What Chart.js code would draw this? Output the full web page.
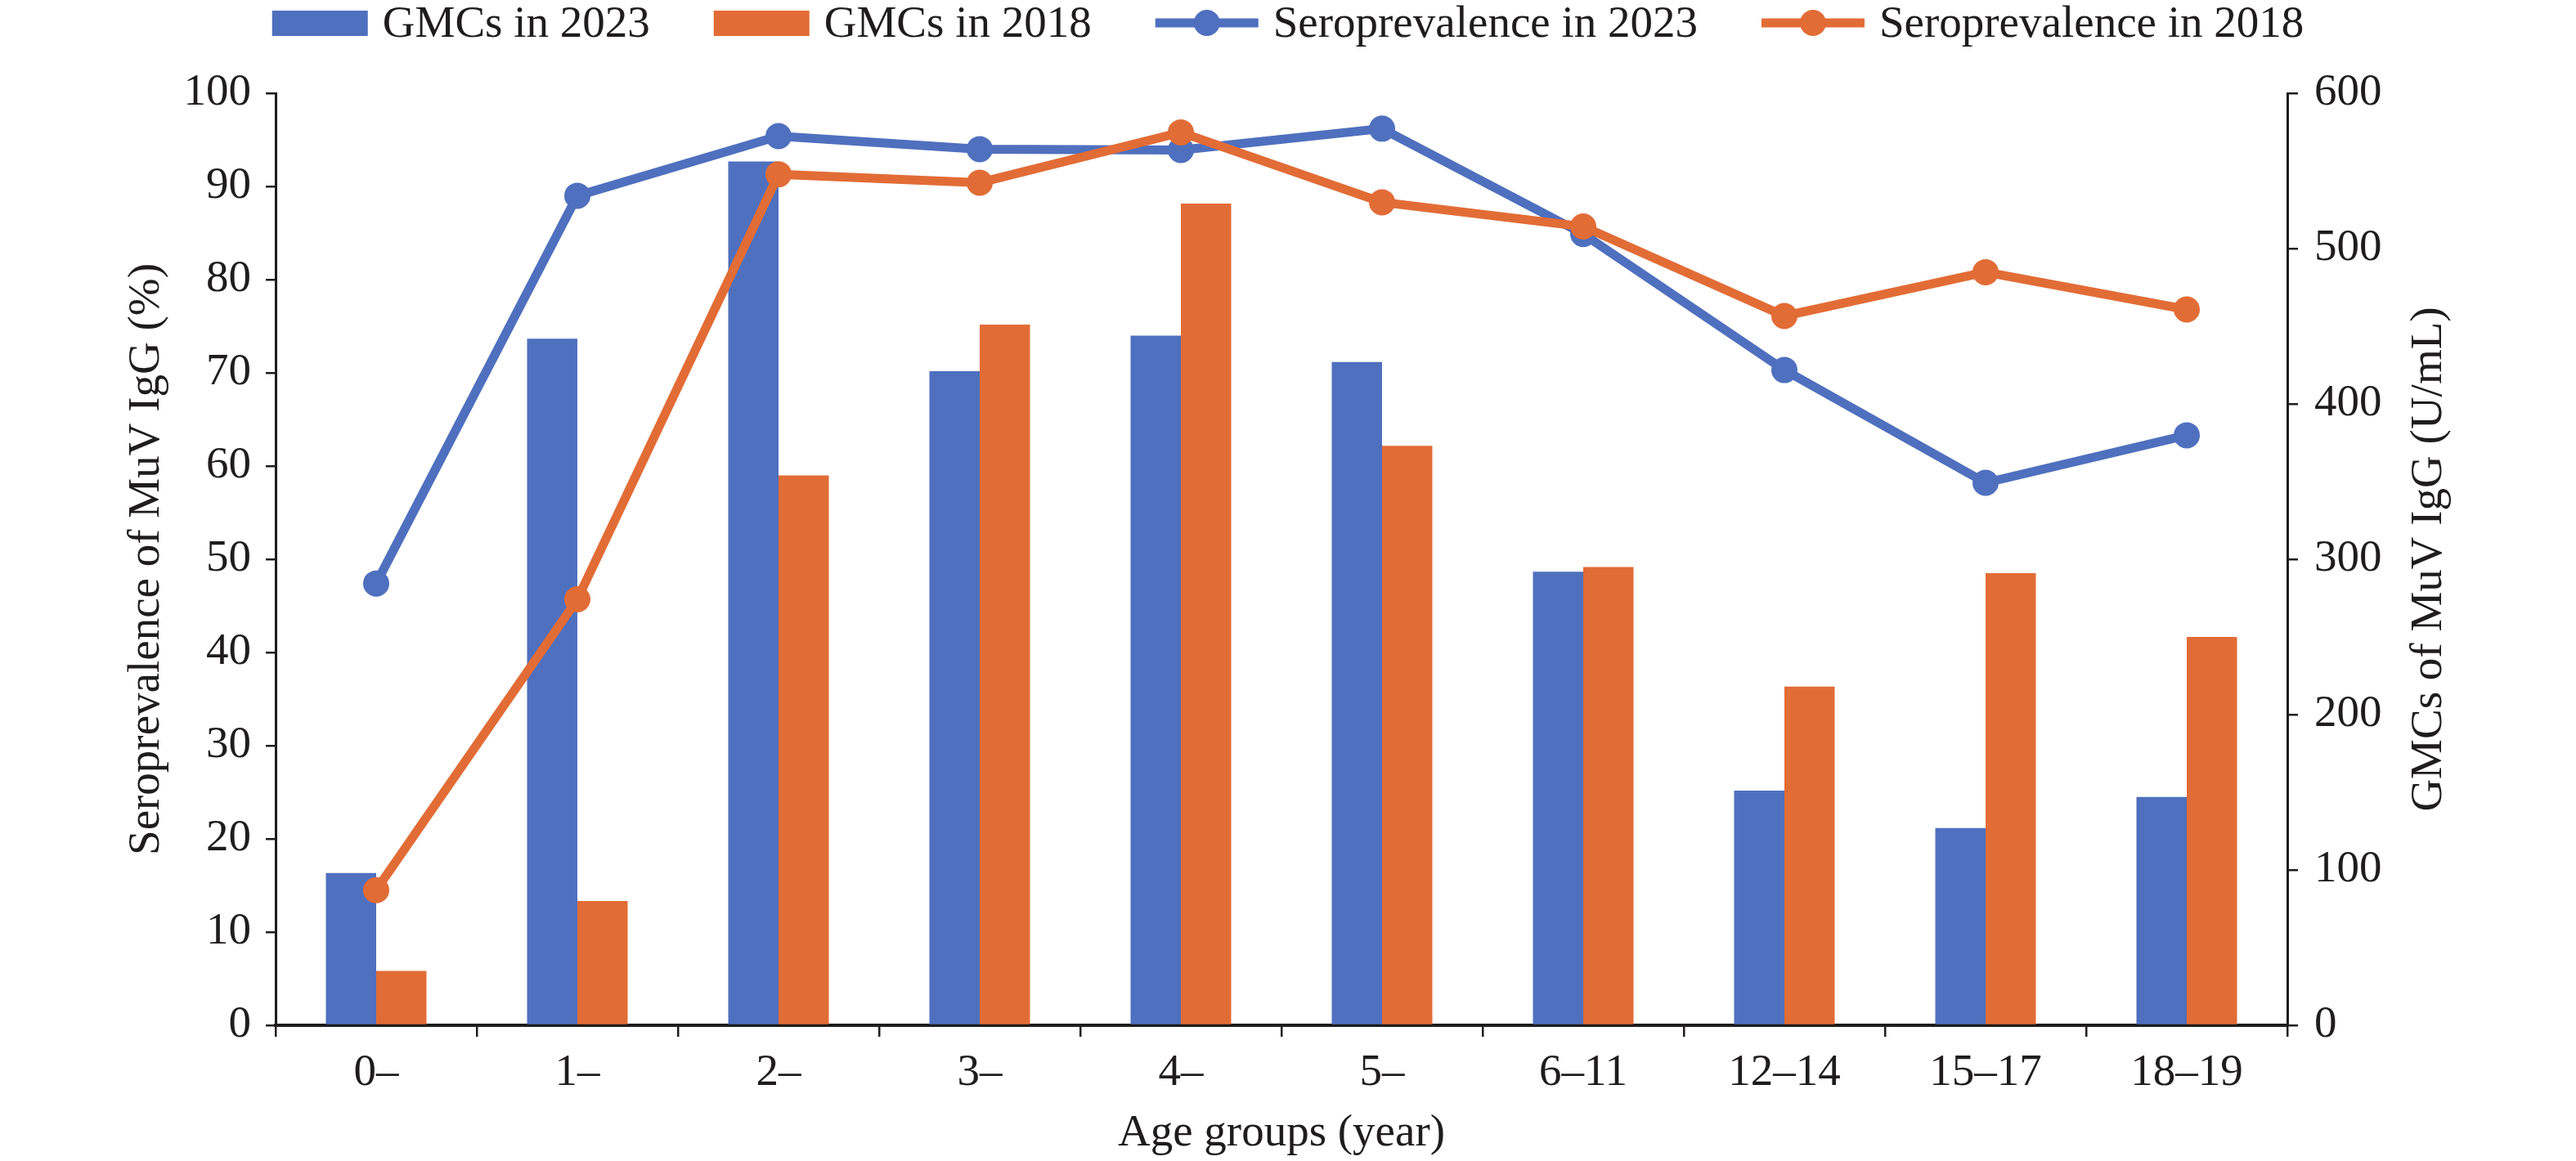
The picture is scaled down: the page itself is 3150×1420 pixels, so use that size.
<!DOCTYPE html>
<html>
<head>
<meta charset="utf-8">
<script src="https://cdn.jsdelivr.net/npm/chart.js@4"></script>
<style>
    body { margin: 0; background: #fff; }
</style>
</head>
<body>
<canvas id="grafico" width="3150" height="1420"></canvas>
<script>
// dados
const faixasEtarias = ['0–', '1–', '2–', '3–', '4–', '5–', '6–11', '12–14', '15–17', '18–19'];
const gmc2023 = [98, 442, 556, 421, 444, 427, 292, 151, 127, 147];
const gmc2018 = [35, 80, 354, 451, 529, 373, 295, 218, 291, 250];
const soro2023 = [47.4, 89.0, 95.4, 94.0, 93.9, 96.2, 84.9, 70.3, 58.2, 63.3];
const soro2018 = [14.5, 45.7, 91.3, 90.4, 95.8, 88.3, 85.7, 76.1, 80.8, 76.8];
const nomesSeries = ['GMCs in 2023', 'GMCs in 2018', 'Seroprevalence in 2023', 'Seroprevalence in 2018'];
const ticksEsquerda = [0, 100, 10];
const ticksDireita = [0, 600, 100];

const azul = '#4f70be';
const laranja = '#e26c36';
const escuro = '#1e1c1d';
const fonte = { family: '"Liberation Serif", "Times New Roman", serif', size: 55 };

// legenda desenhada à mão (caixa para barras, linha com bolinha para as linhas)
const legendaPlugin = {
    id: 'legendaManual',
    afterDraw(chart) {
        const ctx = chart.ctx;
        const itens = [
            { texto: nomesSeries[0], tipo: 'caixa', cor: azul },
            { texto: nomesSeries[1], tipo: 'caixa', cor: laranja },
            { texto: nomesSeries[2], tipo: 'linha', cor: azul },
            { texto: nomesSeries[3], tipo: 'linha', cor: laranja },
        ];
        ctx.save();
        ctx.font = `${fonte.size}px ${fonte.family}`;
        let total = 0;
        itens.forEach((item, i) => {
            item.icone = item.tipo === 'caixa' ? 117 : 126;
            item.largura = ctx.measureText(item.texto).width;
            total += item.icone + 18 + item.largura + (i < itens.length - 1 ? 78 : 0);
        });
        let x = (chart.width - total) / 2;
        const y = 28;
        itens.forEach(item => {
            if (item.tipo === 'caixa') {
                ctx.fillStyle = item.cor;
                ctx.fillRect(x, y - 15, item.icone, 31);
            } else {
                ctx.strokeStyle = item.cor;
                ctx.lineWidth = 11;
                ctx.beginPath();
                ctx.moveTo(x, y);
                ctx.lineTo(x + item.icone, y);
                ctx.stroke();
                ctx.fillStyle = item.cor;
                ctx.beginPath();
                ctx.arc(x + item.icone / 2, y, 16, 0, Math.PI * 2);
                ctx.fill();
            }
            x += item.icone + 18;
            ctx.fillStyle = escuro;
            ctx.textBaseline = 'middle';
            ctx.textAlign = 'left';
            ctx.fillText(item.texto, x, y + 3);
            x += item.largura + 78;
        });

        // título do eixo direito, lido de baixo para cima
        const escala = chart.scales.y1;
        ctx.translate(chart.width - 179, (escala.top + escala.bottom) / 2);
        ctx.rotate(-Math.PI / 2);
        ctx.textAlign = 'center';
        ctx.fillText('GMCs of MuV IgG (U/mL)', 0, 0);
        ctx.restore();
    }
};

const canvas = document.getElementById('grafico');
new Chart(canvas.getContext('2d'), {
    type: 'bar',
    data: {
        labels: faixasEtarias,
        datasets: [
            {
                type: 'bar', label: nomesSeries[0], data: gmc2023, yAxisID: 'y1',
                backgroundColor: azul, order: 2,
                categoryPercentage: 0.5, barPercentage: 1.0
            },
            {
                type: 'bar', label: nomesSeries[1], data: gmc2018, yAxisID: 'y1',
                backgroundColor: laranja, order: 3,
                categoryPercentage: 0.5, barPercentage: 1.0
            },
            {
                type: 'line', label: nomesSeries[2], data: soro2023, yAxisID: 'y',
                borderColor: azul, backgroundColor: azul, borderWidth: 11,
                pointRadius: 16, pointBorderWidth: 0, pointStyle: 'circle',
                tension: 0, fill: false, order: 1
            },
            {
                type: 'line', label: nomesSeries[3], data: soro2018, yAxisID: 'y',
                borderColor: laranja, backgroundColor: laranja, borderWidth: 11,
                pointRadius: 16, pointBorderWidth: 0, pointStyle: 'circle',
                tension: 0, fill: false, order: 0
            }
        ]
    },
    options: {
        responsive: false,
        animation: false,
        devicePixelRatio: 1,
        layout: { padding: { top: 114, left: 0, right: 0, bottom: 0 } },
        plugins: {
            legend: { display: false },
            tooltip: { enabled: false }
        },
        scales: {
            x: {
                offset: true,
                grid: { offset: true, drawOnChartArea: false, drawTicks: true, tickLength: 14, color: escuro, lineWidth: 2.5 },
                border: { display: true, color: escuro, width: 4 },
                ticks: { font: fonte, color: escuro, padding: 12, maxRotation: 0, autoSkip: false },
                title: { display: true, text: 'Age groups (year)', font: fonte, color: escuro, padding: { top: 0, bottom: 0 } },
                afterFit(s) { s.height = 166; }
            },
            y: {
                position: 'left',
                min: ticksEsquerda[0], max: ticksEsquerda[1],
                ticks: { stepSize: ticksEsquerda[2], font: fonte, color: escuro, padding: 18 },
                grid: { drawOnChartArea: false, drawTicks: true, tickLength: 12, color: escuro, lineWidth: 2.5 },
                border: { display: true, color: escuro, width: 3 },
                title: { display: true, text: 'Seroprevalence of MuV IgG (%)', font: fonte, color: escuro, padding: { top: 147, bottom: 0 } },
                afterFit(s) { s.width = 337; }
            },
            y1: {
                position: 'right',
                min: ticksDireita[0], max: ticksDireita[1],
                ticks: { stepSize: ticksDireita[2], font: fonte, color: escuro, padding: 20 },
                grid: { drawOnChartArea: false, drawTicks: true, tickLength: 13, color: escuro, lineWidth: 2.5 },
                border: { display: true, color: escuro, width: 3 },
                title: { display: false },
                afterFit(s) { s.width = 353; }
            }
        }
    },
    plugins: [legendaPlugin]
});
</script>
</body>
</html>
